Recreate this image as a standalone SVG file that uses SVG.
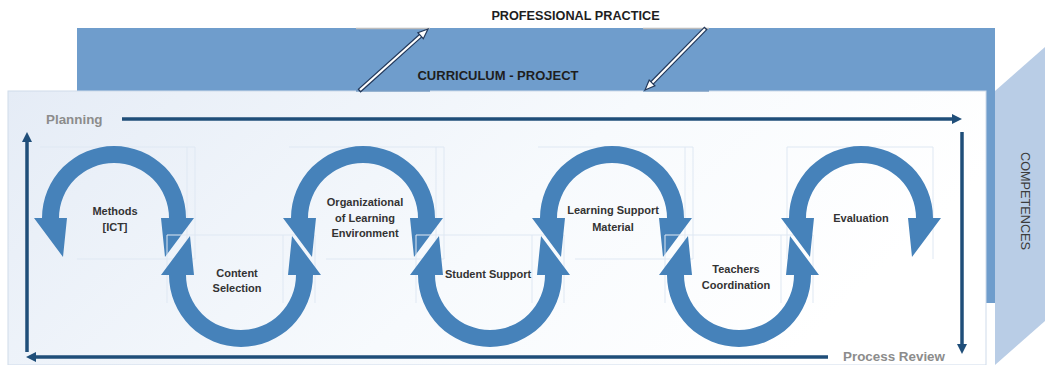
<svg xmlns="http://www.w3.org/2000/svg" width="1045" height="365" viewBox="0 0 1045 365">
  <defs>
    <linearGradient id="panelGrad" x1="0" y1="0" x2="1" y2="0.3">
      <stop offset="0" stop-color="#e5ecf6"/>
      <stop offset="0.6" stop-color="#f7fafd"/>
      <stop offset="1" stop-color="#ffffff"/>
    </linearGradient>
    <marker id="flowHead" markerUnits="userSpaceOnUse" markerWidth="10" markerHeight="10" viewBox="0 0 10 10" refX="2" refY="5" orient="auto">
      <path d="M0,0 L10,5 L0,10 z" fill="#1f4e79"/>
    </marker>
    <path id="arcTop" d="M -72 0 A 72 72 0 0 1 72 0 L 80 0 L 51 39 L 47 0 L 55 0 A 55 55 0 0 0 -55 0 L -47 0 L -51 39 L -80 0 Z"/>
    <style>
      .arc { fill: #4682ba; }
      .box { fill: none; stroke: #dfe8f3; stroke-width: 1; }
      .lbl { font-family: "Liberation Sans", Arial, sans-serif; font-weight: bold; font-size: 11px; fill: #333333; text-anchor: middle; }
      .title { font-family: "Liberation Sans", Arial, sans-serif; font-weight: bold; fill: #1e1e1e; text-anchor: middle; }
      .side { font-family: "Liberation Sans", Arial, sans-serif; font-weight: bold; fill: #8c8c8c; font-size: 13.4px; }
      .flow { stroke: #1f4e79; stroke-width: 3.5; fill: none; marker-end: url(#flowHead); }
      .dblOut { stroke: #22385a; stroke-width: 4.5; stroke-linecap: butt; }
      .dblIn { stroke: #ffffff; stroke-width: 2.2; stroke-linecap: butt; }
      .dblHead { fill: #ffffff; stroke: #22385a; stroke-width: 1.2; stroke-linejoin: miter; }
    </style>
  </defs>

  <!-- background structure -->
  <g id="background">
    <rect x="77" y="28" width="918" height="275" fill="#6f9dcc"/>
    <polygon points="995,91 1045,47 1045,321 995,365" fill="#b9cde6"/>
    <rect x="8" y="91" width="978" height="274" fill="url(#panelGrad)" stroke="#cfdbea" stroke-width="1"/>
    <line x1="356" y1="28.5" x2="430" y2="28.5" stroke="#bdbdbd" stroke-width="1.5"/>
    <line x1="643" y1="28.5" x2="709" y2="28.5" stroke="#bdbdbd" stroke-width="1.5"/>
    <line x1="356" y1="91" x2="430" y2="91" stroke="#4f7fb0" stroke-width="1"/>
    <line x1="643" y1="91" x2="709" y2="91" stroke="#4f7fb0" stroke-width="1"/>
    <text class="title" x="575.5" y="20" font-size="12.7">PROFESSIONAL PRACTICE</text>
    <text class="title" x="498" y="80" font-size="13">CURRICULUM - PROJECT</text>
    <text x="1025" y="201" transform="rotate(90 1025 201)" font-family="Liberation Sans, Arial, sans-serif" font-size="12.7" fill="#3c3c3c" text-anchor="middle" dominant-baseline="central">COMPETENCES</text>
    <text class="side" x="46" y="124">Planning</text>
    <text class="side" x="843" y="361">Process Review</text>
  </g>

  <!-- connectors -->
  <g id="connectors">
    <line class="flow" x1="122" y1="119" x2="954" y2="119"/>
    <line class="flow" x1="962" y1="132" x2="962" y2="346"/>
    <line class="flow" x1="828" y1="357" x2="34" y2="357"/>
    <line class="flow" x1="27" y1="352" x2="27" y2="140"/>
    <g id="dbl-up">
      <line class="dblOut" x1="359" y1="91" x2="420.6" y2="35.7"/>
      <line class="dblIn" x1="360" y1="90" x2="420.6" y2="35.7"/>
      <polygon class="dblHead" points="428,29 423.3,38.7 417.9,32.7"/>
    </g>
    <g id="dbl-down">
      <line class="dblOut" x1="706" y1="28" x2="652" y2="82.9"/>
      <line class="dblIn" x1="705" y1="29" x2="652" y2="82.9"/>
      <polygon class="dblHead" points="645,90 654.9,85.7 649.2,80.1"/>
    </g>
  </g>

  <!-- nodes -->
  <g id="node-methods">
    <polyline class="box" points="40,147 195,147 195,259 77,259"/>
    <line class="box" x1="187" y1="147" x2="187" y2="259"/>
    <use href="#arcTop" class="arc" transform="translate(114 218)"/>
    <text class="lbl" x="115" y="215">Methods</text>
    <text class="lbl" x="115" y="231">[ICT]</text>
  </g>
  <g id="node-content">
    <polyline class="box" points="167,303 167,235 315,235 315,303"/>
    <line class="box" x1="283" y1="235" x2="283" y2="303"/>
    <use href="#arcTop" class="arc" transform="translate(241 275) scale(1 -1)"/>
    <text class="lbl" x="237" y="277">Content</text>
    <text class="lbl" x="237" y="292">Selection</text>
  </g>
  <g id="node-organizational">
    <polyline class="box" points="289,147 444,147 444,259 326,259"/>
    <line class="box" x1="436" y1="147" x2="436" y2="259"/>
    <use href="#arcTop" class="arc" transform="translate(363 218)"/>
    <text class="lbl" x="365" y="206">Organizational</text>
    <text class="lbl" x="365" y="222">of Learning</text>
    <text class="lbl" x="365" y="237">Environment</text>
  </g>
  <g id="node-student">
    <polyline class="box" points="416,303 416,235 564,235 564,303"/>
    <line class="box" x1="532" y1="235" x2="532" y2="303"/>
    <use href="#arcTop" class="arc" transform="translate(490 275) scale(1 -1)"/>
    <text class="lbl" x="488" y="278">Student Support</text>
  </g>
  <g id="node-material">
    <polyline class="box" points="538,147 693,147 693,259 575,259"/>
    <line class="box" x1="685" y1="147" x2="685" y2="259"/>
    <use href="#arcTop" class="arc" transform="translate(612 218)"/>
    <text class="lbl" x="613" y="214">Learning Support</text>
    <text class="lbl" x="613" y="231">Material</text>
  </g>
  <g id="node-teachers">
    <polyline class="box" points="665,303 665,235 813,235 813,303"/>
    <line class="box" x1="781" y1="235" x2="781" y2="303"/>
    <use href="#arcTop" class="arc" transform="translate(739 275) scale(1 -1)"/>
    <text class="lbl" x="736" y="273">Teachers</text>
    <text class="lbl" x="736" y="289">Coordination</text>
  </g>
  <g id="node-evaluation">
    <polyline class="box" points="787,259 787,147 933,147"/>
    <line class="box" x1="933" y1="147" x2="933" y2="259"/>
    <use href="#arcTop" class="arc" transform="translate(861 218)"/>
    <text class="lbl" x="861" y="222">Evaluation</text>
  </g>
</svg>
